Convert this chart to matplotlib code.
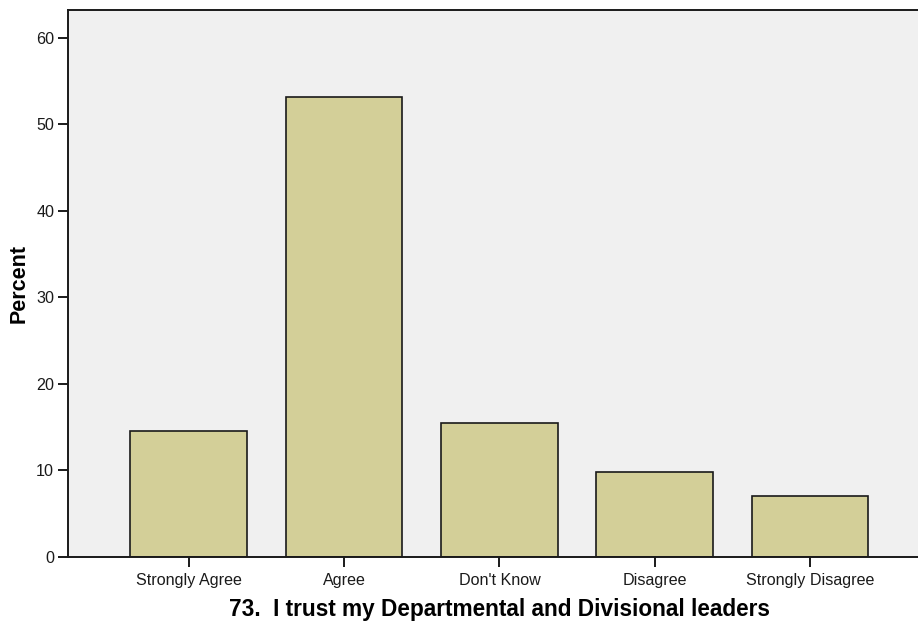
import matplotlib
matplotlib.use("Agg")
import matplotlib.pyplot as plt

categories = ["Strongly Agree", "Agree", "Don't Know", "Disagree", "Strongly Disagree"]
percents = [14.5, 53.1, 15.5, 9.8, 7.0]

plt.rcParams["font.family"] = ["Liberation Sans", "DejaVu Sans"]

fig = plt.figure(figsize=(9.18, 6.23), dpi=100)
ax = fig.add_axes([0.0741, 0.1064, 0.9398, 0.8775])
ax.set_facecolor("#f0f0f0")

x = list(range(len(categories)))
ax.bar(x, percents, width=0.75, color="#d3cf98", edgecolor="#1a1a1a", linewidth=1.2)

ax.set_xlim(-0.777, 4.777)
ax.set_ylim(0, 63.2)
ax.set_yticks([0, 10, 20, 30, 40, 50, 60])
ax.set_xticks(x)
ax.set_xticklabels(categories)
ax.tick_params(axis="both", labelsize=11.6, length=7.5, width=1.4, colors="#1a1a1a")
ax.tick_params(axis="y", pad=2.5)
ax.tick_params(axis="x", pad=4.5)

for side in ["left", "bottom", "top", "right"]:
    ax.spines[side].set_linewidth(1.4)
    ax.spines[side].set_color("#1a1a1a")

ax.set_ylabel("Percent", fontsize=15.5, fontweight="bold", labelpad=4.5)
ax.set_xlabel("73.  I trust my Departmental and Divisional leaders",
              fontsize=16.3, fontweight="bold", labelpad=7)

fig.savefig("out.png", dpi=100)
